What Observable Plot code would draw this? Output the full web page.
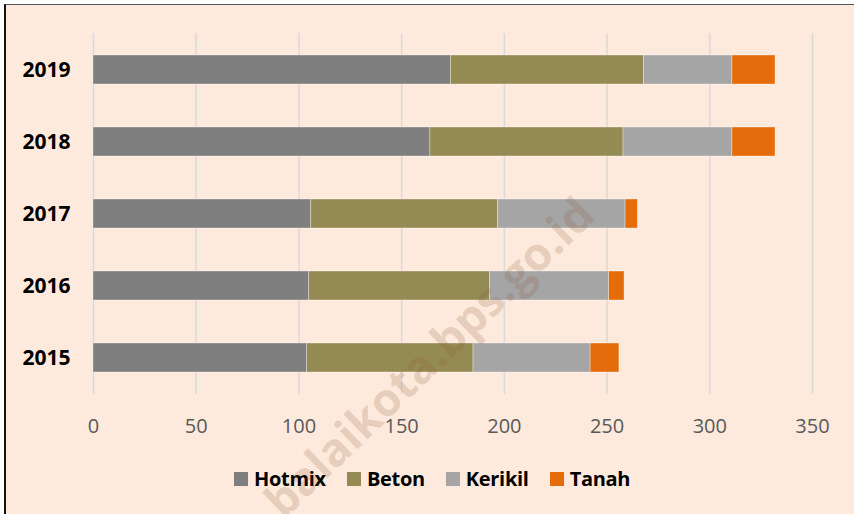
<!DOCTYPE html>
<html>
<head>
<meta charset="utf-8">
<script src="https://cdn.jsdelivr.net/npm/d3@7"></script>
<script src="https://cdn.jsdelivr.net/npm/@observablehq/plot@0.6"></script>
<style>
  html, body { margin: 0; padding: 0; background: #ffffff; width: 854px; height: 514px; overflow: hidden; }
  #frame { position: absolute; left: 4px; top: 4px; width: 900px; height: 600px; background: #FDEADC;
           border-left: 2px solid #111; border-top: 1.5px solid #555; box-sizing: border-box; }
  #chart { position: absolute; left: 0; top: 0; }
  #legend { position: absolute; left: 234px; top: 465px; display: flex; align-items: center;
            font-family: "Open Sans", sans-serif; font-weight: 700; font-size: 20px; color: #000; letter-spacing: -0.3px; }
  #legend .item { display: flex; align-items: center; margin-right: 21px; }
  #legend .sw { width: 14px; height: 14px; margin-right: 6px; }
  #wm { position: absolute; left: 428px; top: 356px; transform: translate(-50%, -50%) rotate(-44deg);
        font-family: "Open Sans", sans-serif; font-weight: 700; font-size: 46px; color: rgba(140, 85, 50, 0.2);
        white-space: nowrap; pointer-events: none; }
</style>
</head>
<body>
<div id="frame"></div>
<div id="chart"></div>
<div id="legend"></div>
<div id="wm">balaikota.bps.go.id</div>
<script>
const years = ["2015", "2016", "2017", "2018", "2019"];
const seriesNames = ["Hotmix", "Beton", "Kerikil", "Tanah"];
const hotmix = [104, 105, 106, 164, 174];
const beton = [81, 88, 91, 94, 94];
const kerikil = [57, 58, 62, 53, 43];
const tanah = [14, 7.5, 6, 21, 21];
const xTicks = [0, 50, 100, 150, 200, 250, 300, 350];
const colors = ["#7F7F7F", "#948A54", "#A5A5A5", "#E46C0A"];

const seriesValues = [hotmix, beton, kerikil, tanah];
const data = [];
years.forEach((y, i) => {
  seriesNames.forEach((s, j) => data.push({year: y, type: s, value: seriesValues[j][i]}));
});

const plot = Plot.plot({
  width: 854,
  height: 440,
  marginTop: 33,
  marginBottom: 46,
  marginLeft: 93,
  marginRight: 42,
  style: {background: "transparent", overflow: "visible", fontFamily: "Open Sans, sans-serif"},
  x: {domain: [0, 350], ticks: xTicks},
  y: {domain: years.slice().reverse(), paddingInner: 0.6, paddingOuter: 0.3},
  color: {domain: seriesNames, range: colors},
  marks: [
    Plot.gridX(xTicks, {stroke: "#D9D9D9", strokeOpacity: 1, strokeWidth: 1.5}),
    Plot.barX(data, {x: "value", y: "year", fill: "type", stroke: "#ffffff", strokeWidth: 0.75, strokeOpacity: 0.45}),
    Plot.axisX(xTicks, {tickSize: 0, tickPadding: 24, fontSize: 20, color: "#595959", label: null}),
    Plot.axisY({tickSize: 0, tickPadding: 23, fontSize: 21, fontWeight: "bold", color: "#000", label: null})
  ]
});
document.getElementById("chart").appendChild(plot);

const legend = document.getElementById("legend");
seriesNames.forEach((s, j) => {
  const item = document.createElement("div");
  item.className = "item";
  const sw = document.createElement("div");
  sw.className = "sw";
  sw.style.background = colors[j];
  const t = document.createElement("span");
  t.textContent = s;
  item.appendChild(sw);
  item.appendChild(t);
  legend.appendChild(item);
});
</script>
</body>
</html>
